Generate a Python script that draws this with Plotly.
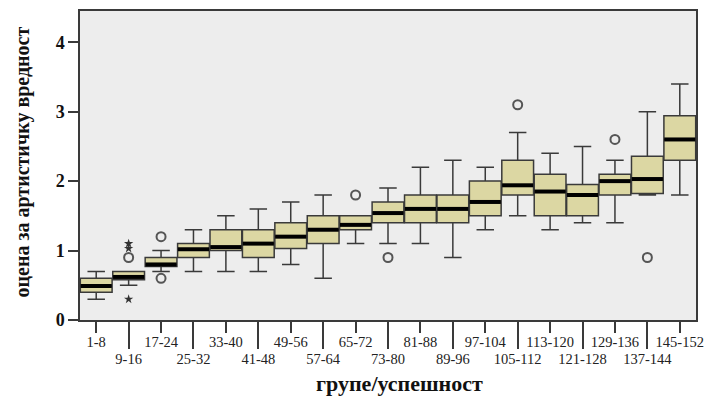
import plotly.graph_objects as go

groups = ["1-8", "9-16", "17-24", "25-32", "33-40", "41-48", "49-56", "57-64",
          "65-72", "73-80", "81-88", "89-96", "97-104", "105-112", "113-120",
          "121-128", "129-136", "137-144", "145-152"]
lower = [0.3, 0.5, 0.7, 0.7, 0.7, 0.7, 0.8, 0.6, 1.1, 1.1, 1.1, 0.9, 1.3, 1.5, 1.3, 1.4, 1.4, 1.8, 1.8]
q1 =    [0.4, 0.58, 0.77, 0.9, 1.0, 0.9, 1.03, 1.1, 1.3, 1.4, 1.4, 1.4, 1.5, 1.8, 1.5, 1.5, 1.8, 1.82, 2.3]
median = [0.49, 0.62, 0.8, 1.02, 1.05, 1.1, 1.2, 1.3, 1.37, 1.54, 1.6, 1.6, 1.7, 1.94, 1.85, 1.8, 2.0, 2.03, 2.6]
q3 =    [0.6, 0.7, 0.9, 1.1, 1.3, 1.3, 1.4, 1.5, 1.5, 1.7, 1.8, 1.8, 2.0, 2.3, 2.1, 1.95, 2.1, 2.36, 2.94]
upper = [0.7, 0.7, 1.0, 1.3, 1.5, 1.6, 1.7, 1.8, 1.5, 1.9, 2.2, 2.3, 2.2, 2.7, 2.4, 2.5, 2.3, 3.0, 3.4]

# outliers (group index, value)
circle_idx = [1, 2, 2, 8, 9, 13, 16, 17]
circle_val = [0.9, 1.2, 0.6, 1.8, 0.9, 3.1, 2.6, 0.9]
star_idx = [1, 1, 1]
star_val = [1.1, 1.03, 0.3]

yticks = [0, 1, 2, 3, 4]
x_title = "групе/успешност"
y_title = "оцена за артистичку вредност"

FILL = "#DCD7A3"
EDGE = "#3a3a3a"
serif = "Liberation Serif, Times New Roman, serif"

pos = list(range(len(groups)))

fig = go.Figure()
fig.add_trace(go.Box(
    x=pos, q1=q1, median=median, q3=q3, lowerfence=lower, upperfence=upper,
    fillcolor=FILL, line=dict(color=EDGE, width=1.5), width=0.98,
    whiskerwidth=0.55, boxpoints=False, hoverinfo="skip", showlegend=False,
))

mx, my = [], []
for i, m in enumerate(median):
    mx += [i - 0.48, i + 0.48, None]
    my += [m, m, None]
fig.add_trace(go.Scatter(x=mx, y=my, mode="lines", line=dict(color="black", width=4),
                         showlegend=False, hoverinfo="skip"))

fig.add_trace(go.Scatter(x=circle_idx, y=circle_val, mode="markers",
                         marker=dict(symbol="circle-open", size=9, color="#555555",
                                     line=dict(width=2, color="#555555")),
                         showlegend=False))
fig.add_trace(go.Scatter(x=star_idx, y=star_val, mode="markers",
                         marker=dict(symbol="star", size=7, color="#333333"),
                         showlegend=False))

# second x-axis for the lower row of labels
fig.add_trace(go.Scatter(x=[0], y=[None], xaxis="x2", showlegend=False, hoverinfo="skip"))

even = pos[0::2]
odd = pos[1::2]
axis_common = dict(range=[-0.5, 18.5], showgrid=False, zeroline=False, automargin=False,
                   ticks="outside", tickcolor=EDGE, tickwidth=1.5,
                   tickfont=dict(family=serif, size=14.5, color="#222"))

fig.update_layout(
    width=707, height=400,
    margin=dict(l=80, r=11, t=11, b=80),
    paper_bgcolor="white", plot_bgcolor="#EDEDED",
    xaxis=dict(**axis_common, tickvals=even, ticktext=[groups[i] for i in even], ticklen=11,
               ticklabelstandoff=-3,
               showline=True, linecolor=EDGE, linewidth=1.5, mirror=True),
    xaxis2=dict(**axis_common, overlaying="x", side="bottom", anchor="y",
                tickvals=odd, ticktext=[groups[i] for i in odd], ticklen=28,
                ticklabelstandoff=-2, showline=False),
    yaxis=dict(range=[0, 4.45], tickvals=yticks, ticks="outside", ticklen=10,
               tickcolor=EDGE, tickwidth=1.5, showgrid=False, zeroline=False, automargin=False,
               showline=True, linecolor=EDGE, linewidth=1.5, mirror=True,
               tickfont=dict(family=serif, size=18, color="#111", weight="bold")),
    annotations=[
        dict(text=x_title, xref="paper", yref="paper", x=0.518, y=-0.204,
             showarrow=False, xanchor="center", yanchor="middle",
             font=dict(family=serif, size=22, color="#111", weight="bold")),
        dict(text=y_title, xref="paper", yref="paper", x=-0.094, y=0.51,
             textangle=-90, showarrow=False, xanchor="center", yanchor="middle",
             font=dict(family=serif, size=20, color="#111", weight="bold")),
    ],
)

fig.write_html("out.html", config={"displayModeBar": False},
               post_script="document.body.style.margin='0';")
